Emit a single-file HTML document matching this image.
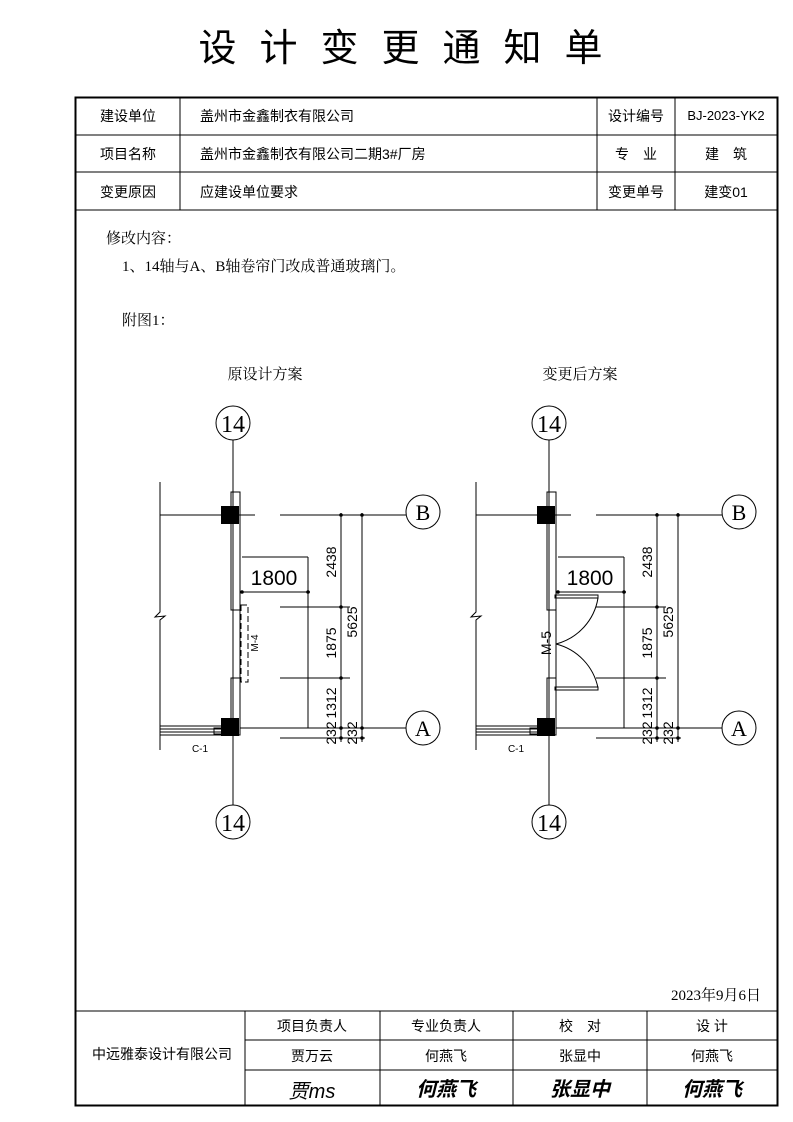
<!DOCTYPE html>
<html><head><meta charset="utf-8"><style>
html,body{margin:0;padding:0;background:#fff}
svg{display:block}
text{font-family:"Liberation Sans","Noto Sans CJK SC",sans-serif;fill:#000}
.s{font-family:"Liberation Serif","Noto Serif CJK SC",serif}
</style></head><body>
<svg width="793" height="1122" viewBox="0 0 793 1122" xmlns="http://www.w3.org/2000/svg">
<text x="412" y="61" font-size="38" text-anchor="middle" letter-spacing="23">设计变更通知单</text>
<rect x="75.5" y="97.5" width="702" height="1008" fill="none" stroke="#000" stroke-width="2"/>
<g stroke="#000" stroke-width="1">
<line x1="75" y1="135" x2="777" y2="135"/><line x1="75" y1="172" x2="777" y2="172"/><line x1="75" y1="210" x2="777" y2="210"/>
<line x1="180" y1="97" x2="180" y2="210"/><line x1="597" y1="97" x2="597" y2="210"/><line x1="675" y1="97" x2="675" y2="210"/>
<line x1="75" y1="1011" x2="777" y2="1011"/><line x1="245" y1="1040" x2="777" y2="1040"/><line x1="245" y1="1070" x2="777" y2="1070"/>
<line x1="245" y1="1011" x2="245" y2="1105"/><line x1="380" y1="1011" x2="380" y2="1105"/><line x1="513" y1="1011" x2="513" y2="1105"/><line x1="647" y1="1011" x2="647" y2="1105"/>
</g>
<g font-size="14">
<text x="128" y="121" text-anchor="middle">建设单位</text>
<text x="128" y="159" text-anchor="middle">项目名称</text>
<text x="128" y="197" text-anchor="middle">变更原因</text>
<text x="200" y="121">盖州市金鑫制衣有限公司</text>
<text x="200" y="159">盖州市金鑫制衣有限公司二期3#厂房</text>
<text x="200" y="197">应建设单位要求</text>
<text x="636" y="121" text-anchor="middle">设计编号</text>
<text x="636" y="159" text-anchor="middle">专　业</text>
<text x="636" y="197" text-anchor="middle">变更单号</text>
<text x="726" y="120" text-anchor="middle" font-size="13">BJ-2023-YK2</text>
<text x="726" y="159" text-anchor="middle">建　筑</text>
<text x="726" y="197" text-anchor="middle">建变01</text>
</g>
<g font-size="15" class="s">
<text class="s" x="106" y="243">修改内容：</text>
<text class="s" x="122" y="271">1、14轴与A、B轴卷帘门改成普通玻璃门。</text>
<text class="s" x="122" y="325">附图1：</text>
<text class="s" x="265" y="379" text-anchor="middle">原设计方案</text>
<text class="s" x="580" y="379" text-anchor="middle">变更后方案</text>
<text class="s" x="761" y="1000" text-anchor="end">2023年9月6日</text>
</g>
<g font-size="14">
<text x="162" y="1059" text-anchor="middle">中远雅泰设计有限公司</text>
<text x="312" y="1031" text-anchor="middle">项目负责人</text>
<text x="446" y="1031" text-anchor="middle">专业负责人</text>
<text x="580" y="1031" text-anchor="middle">校　对</text>
<text x="712" y="1031" text-anchor="middle">设 计</text>
<text x="312" y="1061" text-anchor="middle">贾万云</text>
<text x="446" y="1061" text-anchor="middle">何燕飞</text>
<text x="580" y="1061" text-anchor="middle">张显中</text>
<text x="712" y="1061" text-anchor="middle">何燕飞</text>
</g>
<g font-size="20" font-style="italic" font-weight="bold">
<text x="312" y="1098" text-anchor="middle" font-weight="normal">贾ms</text>
<text x="446" y="1096" text-anchor="middle">何燕飞</text>
<text x="580" y="1096" text-anchor="middle">张显中</text>
<text x="712" y="1096" text-anchor="middle">何燕飞</text>
</g>

<defs>
<g id="plan">
<g stroke="#000" stroke-width="1" fill="none">
<line x1="233" y1="440" x2="233" y2="805"/>
<circle cx="233" cy="423" r="17" fill="#fff"/>
<circle cx="233" cy="822" r="17" fill="#fff"/>
<circle cx="423" cy="512" r="17" fill="#fff"/>
<circle cx="423" cy="728" r="17" fill="#fff"/>
<polyline points="160,482 160,612 155,617 165,616 160,620 160,750"/>
<line x1="160" y1="515" x2="255" y2="515"/><line x1="280" y1="515" x2="406" y2="515"/>
<line x1="240" y1="728" x2="406" y2="728"/>
<rect x="231" y="492" width="9" height="118"/>
<rect x="231" y="678" width="9" height="57"/>
<line x1="240" y1="492" x2="240" y2="735"/>
<line x1="242" y1="557" x2="308" y2="557"/><line x1="308" y1="557" x2="308" y2="728"/>
<line x1="241" y1="592" x2="310" y2="592"/>
<line x1="280" y1="607" x2="350" y2="607"/>
<line x1="280" y1="678" x2="350" y2="678"/>
<line x1="280" y1="738" x2="365" y2="738"/>
<line x1="341" y1="513" x2="341" y2="742"/>
<line x1="362" y1="513" x2="362" y2="742"/>
<line x1="160" y1="726" x2="225" y2="726"/><line x1="160" y1="729" x2="225" y2="729"/><line x1="160" y1="732" x2="225" y2="732"/>
<line x1="160" y1="735" x2="240" y2="735"/>
<rect x="214" y="728" width="8" height="6"/>
</g>
<rect x="221" y="506" width="18" height="18" fill="#000"/>
<rect x="221" y="718" width="18" height="18" fill="#000"/>
<g fill="#000">
<circle cx="242" cy="592" r="1.8"/><circle cx="308" cy="592" r="1.8"/>
<circle cx="341" cy="515" r="1.8"/><circle cx="362" cy="515" r="1.8"/>
<circle cx="341" cy="607" r="1.8"/><circle cx="341" cy="678" r="1.8"/>
<circle cx="341" cy="728" r="1.8"/><circle cx="362" cy="728" r="1.8"/>
<circle cx="341" cy="738" r="1.8"/><circle cx="362" cy="738" r="1.8"/>
</g>
<text class="s" x="233" y="432" font-size="24" text-anchor="middle" font-family="Liberation Serif">14</text>
<text class="s" x="233" y="831" font-size="24" text-anchor="middle" font-family="Liberation Serif">14</text>
<text class="s" x="423" y="520" font-size="22" text-anchor="middle" font-family="Liberation Serif">B</text>
<text class="s" x="423" y="736" font-size="22" text-anchor="middle" font-family="Liberation Serif">A</text>
<text x="274" y="585" font-size="21" text-anchor="middle">1800</text>
<g font-size="14">
<text transform="translate(336,562) rotate(-90)" text-anchor="middle">2438</text>
<text transform="translate(336,643) rotate(-90)" text-anchor="middle">1875</text>
<text transform="translate(336,703) rotate(-90)" text-anchor="middle">1312</text>
<text transform="translate(336,733) rotate(-90)" text-anchor="middle">232</text>
<text transform="translate(357,622) rotate(-90)" text-anchor="middle">5625</text>
<text transform="translate(357,733) rotate(-90)" text-anchor="middle">232</text>
</g>
<text x="200" y="752" font-size="10" text-anchor="middle">C-1</text>
</g>
</defs>

<use href="#plan"/>
<g stroke="#000" fill="none" stroke-width="1">
<rect x="241" y="605" width="7" height="77" stroke-dasharray="6,3"/>
</g>
<text transform="translate(258,643) rotate(-90)" font-size="10" text-anchor="middle">M-4</text>

<use href="#plan" x="316"/>
<g stroke="#000" fill="none" stroke-width="1">
<rect x="555" y="595" width="43" height="3"/>
<rect x="555" y="687" width="43" height="3"/>
<path d="M598 598 A57 57 0 0 1 556 644"/>
<path d="M556 644 A57 57 0 0 1 598 688"/>
<line x1="598" y1="607" x2="666" y2="607"/>
<line x1="598" y1="678" x2="666" y2="678"/>
</g>
<text transform="translate(551,643) rotate(-90)" font-size="14" text-anchor="middle">M-5</text>
</svg>
</body></html>
